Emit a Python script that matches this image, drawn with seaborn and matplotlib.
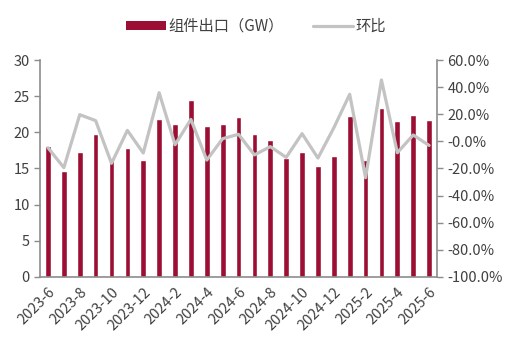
import numpy as np
import pandas as pd
import seaborn as sns
import matplotlib.pyplot as plt
from matplotlib.patches import Patch
from matplotlib.lines import Line2D
from matplotlib.ticker import FuncFormatter, FixedLocator

sns.set_style('white')
plt.rcParams['font.family'] = ['Noto Sans CJK SC', 'DejaVu Sans']

months = ['2023-6', '2023-7', '2023-8', '2023-9', '2023-10', '2023-11', '2023-12',
          '2024-1', '2024-2', '2024-3', '2024-4', '2024-5', '2024-6', '2024-7',
          '2024-8', '2024-9', '2024-10', '2024-11', '2024-12',
          '2025-1', '2025-2', '2025-3', '2025-4', '2025-5', '2025-6']
export_gw = [18.1, 14.6, 17.3, 19.8, 16.3, 17.8, 16.2, 21.9, 21.2, 24.5, 20.9, 21.2, 22.1,
             19.7, 18.9, 16.5, 17.3, 15.3, 16.7, 22.3, 16.2, 23.4, 21.5, 22.4, 21.7]
mom = [-4.7, -19.4, 19.7, 15.3, -16.2, 8.1, -8.6, 35.9, -2.5, 16.2, -13.8, 2.0, 5.2,
       -10.0, -3.9, -11.8, 5.7, -12.3, 10.0, 34.7, -26.8, 45.3, -8.4, 4.7, -3.0]

bar_color = '#9C0F34'
line_color = '#C3C3C3'
text_color = '#404040'
spine_color = '#8C8C8C'

df = pd.DataFrame({'month': months, 'gw': export_gw, 'mom': np.array(mom) / 100,
                   'pos': np.arange(len(months))})

fig = plt.figure(figsize=(5.07, 3.51), dpi=100)
ax = fig.add_axes([0.079, 0.211, 0.783, 0.618])
sns.barplot(data=df, x='month', y='gw', color=bar_color, width=0.36,
            saturation=1, ax=ax)
ax2 = ax.twinx()
sns.lineplot(data=df, x='pos', y='mom', color=line_color, linewidth=2.3, ax=ax2)

ax.set_xlim(-0.5, len(months) - 0.5)
ax.set_ylim(0, 30)
ax.set_yticks(range(0, 31, 5))
ax2.set_ylim(-1.0, 0.6)
ax2.set_yticks(np.arange(-1.0, 0.61, 0.2))
ax2.yaxis.set_major_formatter(FuncFormatter(lambda v, p: f'{v*100:.1f}%'))

ax.xaxis.set_major_locator(FixedLocator(list(range(0, len(months), 2))))
ax.set_xticklabels(months[::2], rotation=45, ha='right', rotation_mode='anchor')
ax.xaxis.set_minor_locator(FixedLocator(list(np.arange(-0.5, len(months), 1.0))))
ax.tick_params(axis='x', which='major', length=0, pad=6, labelsize=10.5, colors=text_color)
ax.tick_params(axis='x', which='minor', length=4, width=1, color=spine_color, direction='out')
ax.tick_params(axis='y', length=4, width=1, color=spine_color, labelsize=10.5,
               labelcolor=text_color, left=True)
ax2.tick_params(axis='y', length=4, width=1, color=spine_color, labelsize=10.5,
                labelcolor=text_color, right=True)
ax.set_xlabel('')
ax.set_ylabel('')
ax2.set_xlabel('')
ax2.set_ylabel('')

for a in (ax, ax2):
    a.spines['top'].set_visible(False)
    for s in ('left', 'right', 'bottom'):
        a.spines[s].set_color(spine_color)
        a.spines[s].set_linewidth(1.2)
ax.spines['right'].set_visible(False)
ax2.spines['left'].set_visible(False)
ax2.spines['bottom'].set_visible(False)

handles = [Patch(facecolor=bar_color, edgecolor='none'),
           Line2D([0], [0], color=line_color, linewidth=2.3)]
fig.legend(handles, ['组件出口（GW）', '环比'], loc='center', bbox_to_anchor=(0.505, 0.925),
           ncol=2, frameon=False, fontsize=11, handlelength=2.6, handleheight=0.5,
           columnspacing=1.9, handletextpad=0.2, labelcolor=text_color)

fig.savefig('out.png', dpi=100)
